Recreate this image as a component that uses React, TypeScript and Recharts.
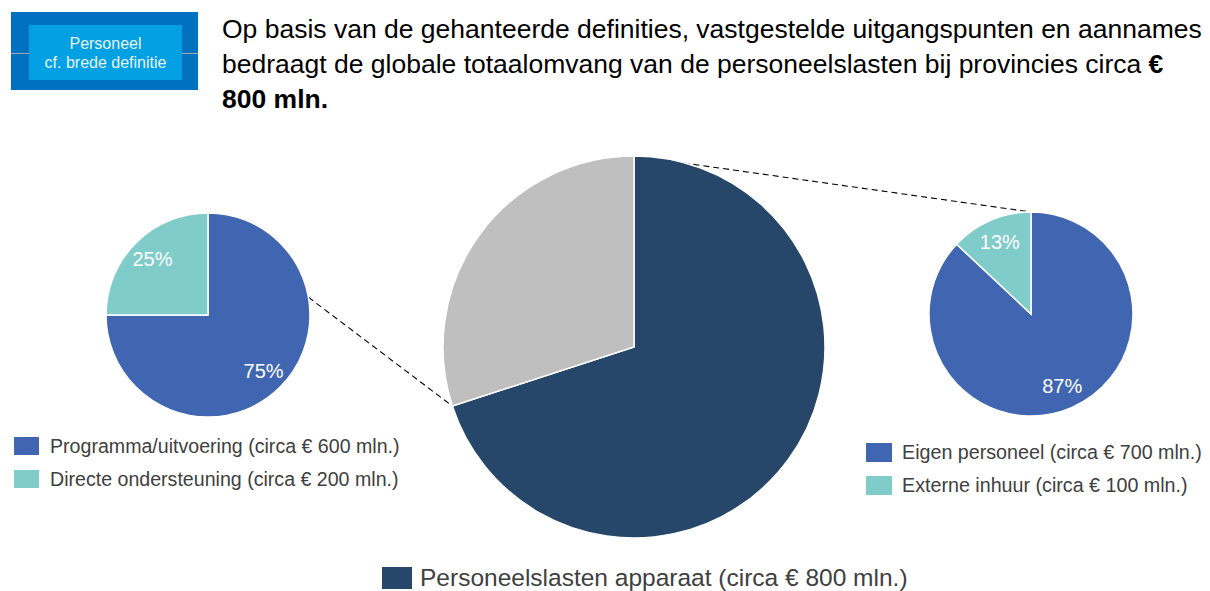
import React from 'react';
import { PieChart, Pie, Cell, Customized } from 'recharts';

const mainNames = ['Personeelslasten apparaat (circa € 800 mln.)', 'Overig'];
const mainValues = [70, 30];
const leftNames = ['Programma/uitvoering (circa € 600 mln.)', 'Directe ondersteuning (circa € 200 mln.)'];
const leftValues = [75, 25];
const rightNames = ['Eigen personeel (circa € 700 mln.)', 'Externe inhuur (circa € 100 mln.)'];
const rightValues = [87, 13];

const titleLines = [
  'Op basis van de gehanteerde definities, vastgestelde uitgangspunten en aannames',
  'bedraagt de globale totaalomvang van de personeelslasten bij provincies circa ',
];
const titleBoldEnd = '€';
const titleBoldLine = '800 mln.';

const NAVY = '#26466A';
const GREY = '#BFBFBF';
const BLUE = '#4166B1';
const TEAL = '#7FCCCB';
const FONT = '"Liberation Sans", Arial, sans-serif';

const mainColors = [NAVY, GREY];
const subColors = [BLUE, TEAL];

const toData = (names: string[], values: number[]) => names.map((name, i) => ({ name, value: values[i] }));
const mainData = toData(mainNames, mainValues);
const leftData = toData(leftNames, leftValues);
const rightData = toData(rightNames, rightValues);

const MAIN = { cx: 634, cy: 347, r: 191 };
const LEFT = { cx: 208, cy: 315, r: 102 };
const RIGHT = { cx: 1031, cy: 314, r: 102 };

const RAD = Math.PI / 180;
const pt = (c: { cx: number; cy: number; r: number }, deg: number) => ({
  x: c.cx + c.r * Math.cos(deg * RAD),
  y: c.cy - c.r * Math.sin(deg * RAD),
});

const pctLabel = (p: any) => {
  const r = p.outerRadius * 0.77;
  const x = p.cx + r * Math.cos(-p.midAngle * RAD);
  const y = p.cy + r * Math.sin(-p.midAngle * RAD);
  return (
    <text x={x} y={y} fill="#fff" textAnchor="middle" dominantBaseline="central" fontSize={20} fontFamily={FONT}>
      {`${Math.round(p.percent * 100)}%`}
    </text>
  );
};

const Connectors = () => {
  const total = mainValues.reduce((a, b) => a + b, 0);
  // boundary between navy and grey slice of main pie (clockwise from top)
  const splitAngle = 90 - (360 * mainValues[0]) / total;
  const a1 = pt(LEFT, 10);
  const b1 = pt(MAIN, splitAngle);
  const a2 = pt(MAIN, 90);
  const b2 = pt(RIGHT, 90);
  return (
    <g stroke="#000" strokeWidth={1.1} strokeDasharray="6 4" fill="none">
      <line x1={a1.x} y1={a1.y} x2={b1.x} y2={b1.y} />
      <line x1={a2.x} y1={a2.y} x2={b2.x} y2={b2.y} />
    </g>
  );
};

const LegendBlock = ({ names, colors, left, top, gap, box, textLeft, fontSize }: any) => (
  <div style={{ position: 'absolute', left, top }}>
    {names.map((n: string, i: number) => (
      <div key={n} style={{ position: 'absolute', top: i * gap, left: 0, height: box[1], whiteSpace: 'nowrap' }}>
        <div style={{ position: 'absolute', left: 0, top: 0, width: box[0], height: box[1], background: colors[i] }} />
        <div
          style={{
            position: 'absolute',
            left: textLeft,
            top: 0,
            lineHeight: `${box[1]}px`,
            fontSize,
            color: '#404040',
            fontFamily: FONT,
          }}
        >
          {n}
        </div>
      </div>
    ))}
  </div>
);

export default function App() {
  return (
    <div style={{ position: 'absolute', left: 0, top: 0, width: 1210, height: 591, background: '#fff', overflow: 'hidden' }}>
      <div style={{ position: 'absolute', left: 0, top: 0 }}>
        <PieChart width={1210} height={591} margin={{ top: 0, right: 0, bottom: 0, left: 0 }}>
          <Pie
            data={mainData}
            dataKey="value"
            cx={MAIN.cx}
            cy={MAIN.cy}
            outerRadius={MAIN.r}
            startAngle={90}
            endAngle={-270}
            stroke="#fff"
            strokeWidth={1.5}
            isAnimationActive={false}
          >
            {mainData.map((d, i) => (
              <Cell key={d.name} fill={mainColors[i]} />
            ))}
          </Pie>
          <Pie
            data={leftData}
            dataKey="value"
            cx={LEFT.cx}
            cy={LEFT.cy}
            outerRadius={LEFT.r}
            startAngle={90}
            endAngle={-270}
            stroke="#fff"
            strokeWidth={1.5}
            label={pctLabel}
            labelLine={false}
            isAnimationActive={false}
          >
            {leftData.map((d, i) => (
              <Cell key={d.name} fill={subColors[i]} />
            ))}
          </Pie>
          <Pie
            data={rightData}
            dataKey="value"
            cx={RIGHT.cx}
            cy={RIGHT.cy}
            outerRadius={RIGHT.r}
            startAngle={90}
            endAngle={-270}
            stroke="#fff"
            strokeWidth={1.5}
            label={pctLabel}
            labelLine={false}
            isAnimationActive={false}
          >
            {rightData.map((d, i) => (
              <Cell key={d.name} fill={subColors[i]} />
            ))}
          </Pie>
          <Customized component={Connectors} />
        </PieChart>
      </div>

      {/* header badge */}
      <div style={{ position: 'absolute', left: 11, top: 12, width: 187, height: 78, background: '#0070C0' }}>
        <div style={{ position: 'absolute', left: 0, top: 41, width: 187, height: 1, background: '#A6A6A6' }} />
        <div
          style={{
            position: 'absolute',
            left: 18,
            top: 13,
            width: 153,
            height: 55,
            background: '#00A0E2',
            color: '#E8F4FC',
            fontFamily: FONT,
            fontSize: 16,
            lineHeight: '19px',
            textAlign: 'center',
            display: 'flex',
            flexDirection: 'column',
            justifyContent: 'center',
          }}
        >
          <div>Personeel</div>
          <div>cf. brede definitie</div>
        </div>
      </div>

      {/* title */}
      <div
        style={{
          position: 'absolute',
          left: 222,
          top: 12,
          fontFamily: FONT,
          fontSize: 26.5,
          lineHeight: '35px',
          color: '#000',
          whiteSpace: 'nowrap',
        }}
      >
        <div>{titleLines[0]}</div>
        <div>
          {titleLines[1]}
          <b>{titleBoldEnd}</b>
        </div>
        <div>
          <b>{titleBoldLine}</b>
        </div>
      </div>

      <LegendBlock names={leftNames} colors={subColors} left={14} top={437} gap={33} box={[25, 18]} textLeft={36} fontSize={19.6} />
      <LegendBlock names={rightNames} colors={subColors} left={866} top={443} gap={33} box={[26, 19]} textLeft={36} fontSize={19.7} />
      <LegendBlock names={[mainNames[0]]} colors={[NAVY]} left={382} top={567} gap={0} box={[30, 22]} textLeft={38} fontSize={24.5} />
    </div>
  );
}
